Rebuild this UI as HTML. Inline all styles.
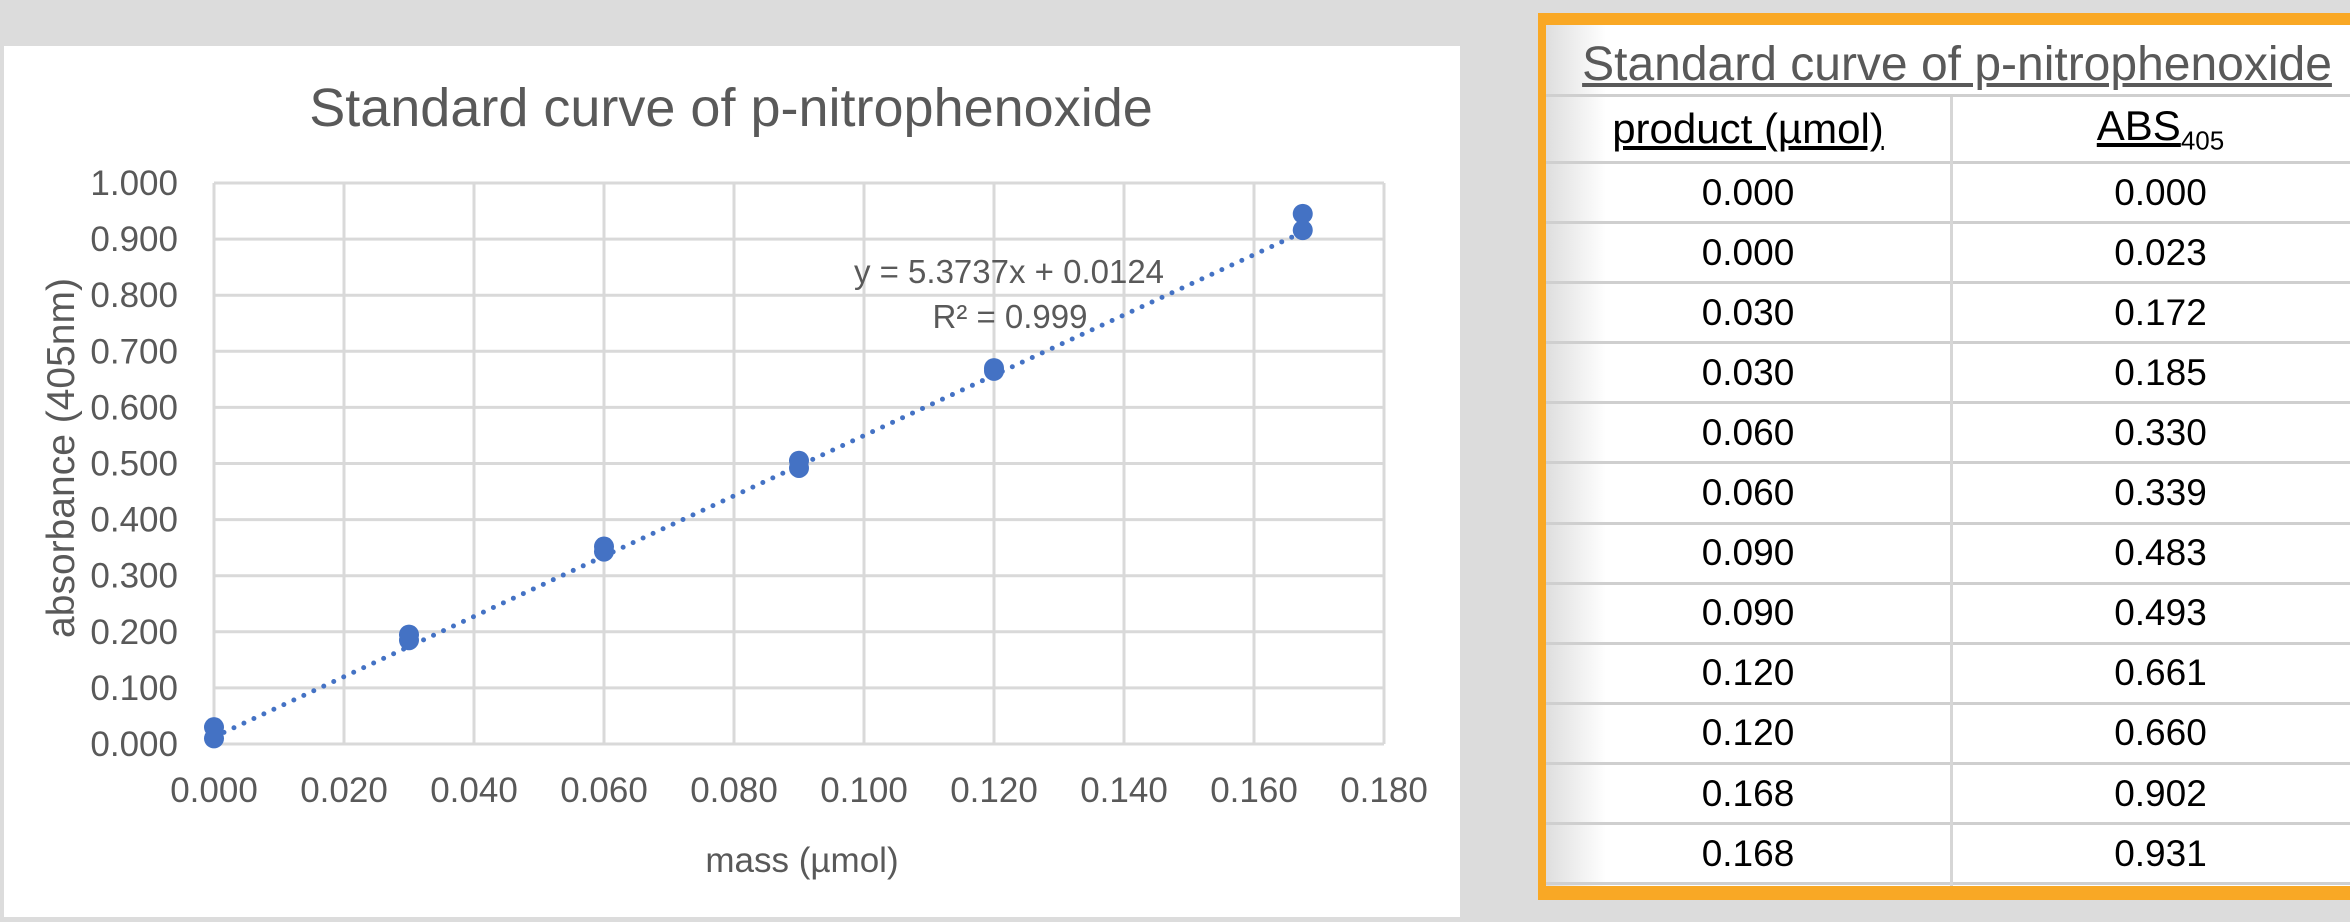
<!DOCTYPE html>
<html><head><meta charset="utf-8"><style>
html,body{margin:0;padding:0;}
body{width:2350px;height:922px;background:#dcdcdc;position:relative;overflow:hidden;font-family:"Liberation Sans",sans-serif;}
#chart{position:absolute;left:4px;top:46px;width:1456px;height:871px;background:#fff;}
#tbl{position:absolute;left:1538px;top:13px;width:830px;height:887px;background:#f9a825;}
#tblin{position:absolute;left:8px;top:12px;right:0;bottom:14px;background:linear-gradient(to right,#dedede 0px,#fff 60px);}
.row{position:absolute;left:0;right:0;border-bottom:3px solid #cfcfcf;}
.cell{position:absolute;top:0;bottom:0;display:flex;align-items:center;justify-content:center;font-size:37px;color:#000;}
.c1{left:0;width:404px;}
.c2{left:407px;right:0;}
.vline{position:absolute;left:404px;top:72px;bottom:0;width:3px;background:#d6d6d6;}
</style></head><body>
<div id="chart">
<svg id="svg" width="1456" height="871" xmlns="http://www.w3.org/2000/svg"></svg>
</div>
<div id="tbl"><div id="tblin"></div></div>
<script>
const tickY=["0.000","0.100","0.200","0.300","0.400","0.500","0.600","0.700","0.800","0.900","1.000"];
const tickX=["0.000","0.020","0.040","0.060","0.080","0.100","0.120","0.140","0.160","0.180"];
const xs=[0,0,0.03,0.03,0.06,0.06,0.09,0.09,0.12,0.12,0.1675,0.1675];
const ys=[0.010,0.030,0.185,0.195,0.343,0.352,0.492,0.505,0.665,0.670,0.916,0.945];
const slope=5.3737, intercept=0.0124;
const tProd=["0.000","0.000","0.030","0.030","0.060","0.060","0.090","0.090","0.120","0.120","0.168","0.168"];
const tAbs=["0.000","0.023","0.172","0.185","0.330","0.339","0.483","0.493","0.661","0.660","0.902","0.931"];

const ox=-4, oy=-46;
const L=214+ox,R=1384+ox,T=183+oy,B=744+oy;
const sx=v=>L+(v/0.18)*(R-L);
const sy=v=>B-(v/1.0)*(B-T);
const NS="http://www.w3.org/2000/svg";
const svg=document.getElementById('svg');
function mk(tag,attrs,parent){const e=document.createElementNS(NS,tag);for(const k in attrs)e.setAttribute(k,attrs[k]);(parent||svg).appendChild(e);return e;}
let t=mk('text',{x:727,y:80,'font-size':54,fill:'#595959','text-anchor':'middle'});


t.textContent='Standard curve of p-nitrophenoxide';
tickY.forEach((s,i)=>{const v=parseFloat(s);
 const g=mk('line',{x1:L,x2:R,y1:sy(v),y2:sy(v),stroke:'#d9d9d9','stroke-width':3});
 
 
 const l=mk('text',{x:178+ox,y:sy(v)+12,'font-size':35,fill:'#595959','text-anchor':'end'});
 
 
 l.textContent=s;});
tickX.forEach((s,i)=>{const v=parseFloat(s);
 const g=mk('line',{x1:sx(v),x2:sx(v),y1:T,y2:B,stroke:'#d9d9d9','stroke-width':3});
 
 
 const l=mk('text',{x:sx(v),y:B+58,'font-size':35,fill:'#595959','text-anchor':'middle'});
 
 
 l.textContent=s;});
let yt=mk('text',{x:0,y:0,'font-size':39,fill:'#595959','text-anchor':'middle',transform:'translate('+(74+ox)+','+(458+oy)+') rotate(-90)'});


yt.textContent='absorbance (405nm)';
let xt=mk('text',{x:802+ox,y:872+oy,'font-size':35,fill:'#595959','text-anchor':'middle'});


xt.textContent='mass (µmol)';
const xmax=Math.max(...xs);
let tl=mk('line',{x1:sx(0),y1:sy(intercept),x2:sx(xmax),y2:sy(slope*xmax+intercept),stroke:'#4472c4','stroke-width':5,'stroke-dasharray':'0 11','stroke-linecap':'round'});


xs.forEach((x,i)=>{const c=mk('circle',{cx:sx(x),cy:sy(ys[i]),r:10,fill:'#4472c4'});
 
 });
let eq=mk('text',{x:1009+ox,y:283+oy,'font-size':33,fill:'#595959','text-anchor':'middle'});


eq.textContent='y = 5.3737x + 0.0124';
let r2=mk('text',{x:1010+ox,y:328+oy,'font-size':33,fill:'#595959','text-anchor':'middle'});


r2.textContent='R² = 0.999';

// table
const tin=document.getElementById('tblin');
const title=document.createElement('div');
title.className='row';
title.style.top='0px';title.style.height='69px';
title.innerHTML='<div class="cell" style="left:0;right:0;top:10px;color:#595959;font-size:48px;"><u>Standard curve of p-nitrophenoxide</u></div>';


tin.appendChild(title);
const hdr=document.createElement('div');
hdr.className='row';hdr.style.top='72px';hdr.style.height='64px';
hdr.innerHTML='<div class="cell c1" style="font-size:42px"><u>product (µmol)</u></div><div class="cell c2" style="font-size:42px"><u>ABS<sub style="font-size:26px">405</sub></u></div>';


tin.appendChild(hdr);
tProd.forEach((p,i)=>{const r=document.createElement('div');
 r.className='row';r.style.top=(139+i*60.1)+'px';r.style.height='57px';
 r.innerHTML='<div class="cell c1">'+p+'</div><div class="cell c2">'+tAbs[i]+'</div>';
 
 
 tin.appendChild(r);});
const vl=document.createElement('div');vl.className='vline';


tin.appendChild(vl);
</script>
</body></html>
